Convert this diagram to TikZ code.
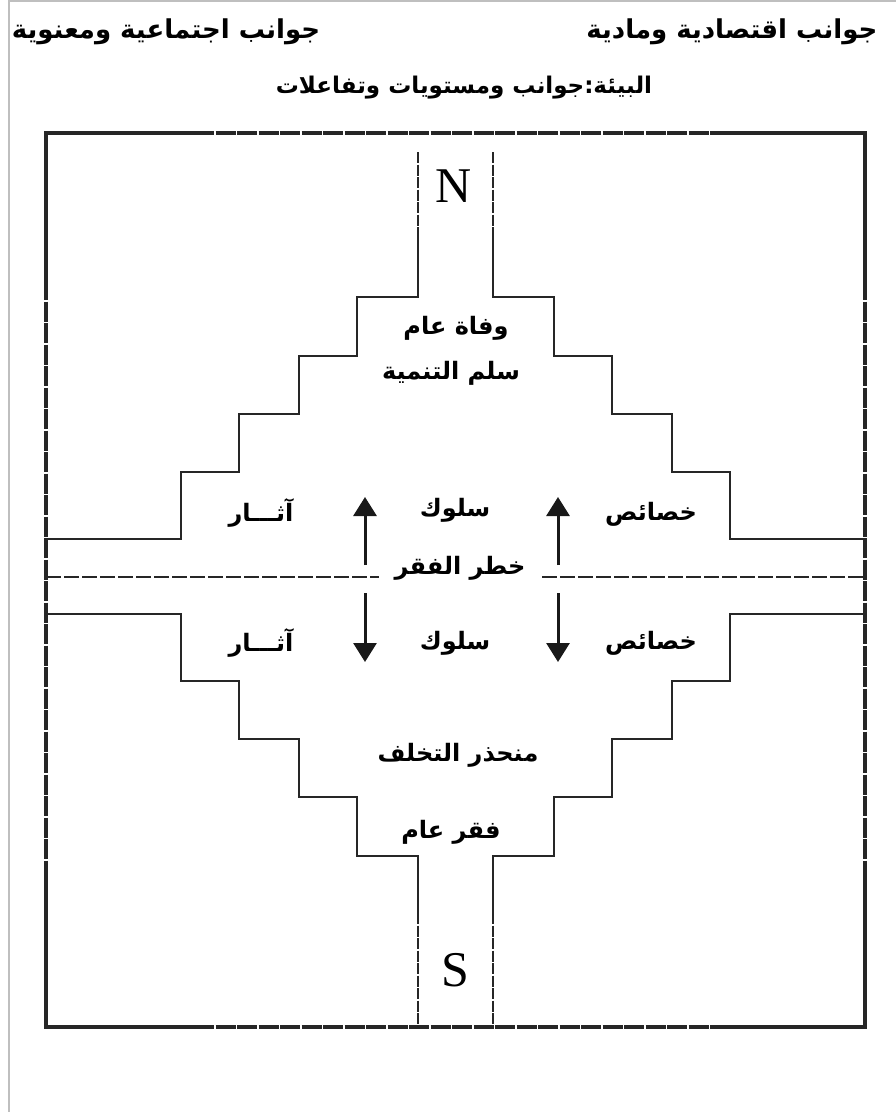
\documentclass[tikz,border=0pt]{standalone}
\usepackage{fontspec}
\setmainfont{Liberation Serif}
\newfontfamily\arabicfont[Script=Arabic]{DejaVu Sans}
\TeXXeTstate=1
\usetikzlibrary{arrows.meta}

\begin{document}
\begin{tikzpicture}[x=1pt,y=-1pt,
  outerline/.style={line width=3.3pt, draw=black!85},
  outerdash/.style={outerline, dash pattern=on 20pt off 1.5pt},
  wall/.style={line width=2.7pt, draw=black!85, line join=miter},
  walldash/.style={wall, dash pattern=on 11pt off 1.5pt},
  midline/.style={line width=2.7pt, draw=black!85, dash pattern=on 15pt off 3pt},
  artext/.style={font=\arabicfont\bfseries\fontsize{24}{28}\selectfont, inner sep=0pt},
  toptext/.style={font=\arabicfont\bfseries\fontsize{26}{30}\selectfont, inner sep=0pt},
  titletext/.style={font=\arabicfont\bfseries\fontsize{23}{27}\selectfont, inner sep=0pt},
  pole/.style={font=\fontsize{50}{54}\selectfont, inner sep=0pt},
  flow/.style={line width=3pt, draw=black!90, -{Triangle[width=23pt,length=19pt]}}]

\useasboundingbox (0,0) rectangle (896,1112);
\fill[white] (0,0) rectangle (896,1112);
% page frame
\draw[black!25, line width=2pt] (9,1112) -- (9,1) -- (896,1);

% outer box: solid corners, broken middle stretches
\draw[outerline] (194,133) -- (46,133) -- (46,280);
\draw[outerline] (717,133) -- (865,133) -- (865,280);
\draw[outerline] (46,880) -- (46,1027) -- (194,1027);
\draw[outerline] (865,880) -- (865,1027) -- (717,1027);
\draw[outerdash] (194,133) -- (717,133);
\draw[outerdash] (194,1027) -- (717,1027);
\draw[outerdash] (46,280) -- (46,880);
\draw[outerdash] (865,280) -- (865,880);

% upper staircase
\draw[walldash] (418,152) -- (418,238);
\draw[wall] (418,238) -- (418,297) -- (357,297) -- (357,356) -- (299,356) -- (299,414)
  -- (239,414) -- (239,472) -- (181,472) -- (181,539) -- (46,539);
\draw[walldash] (493,152) -- (493,238);
\draw[wall] (493,238) -- (493,297) -- (554,297) -- (554,356) -- (612,356) -- (612,414)
  -- (672,414) -- (672,472) -- (730,472) -- (730,539) -- (865,539);

% lower staircase
\draw[wall] (46,614) -- (181,614) -- (181,681) -- (239,681) -- (239,739) -- (299,739)
  -- (299,797) -- (357,797) -- (357,856) -- (418,856) -- (418,913);
\draw[walldash] (418,913) -- (418,1027);
\draw[wall] (865,614) -- (730,614) -- (730,681) -- (672,681) -- (672,739) -- (612,739)
  -- (612,797) -- (554,797) -- (554,856) -- (493,856) -- (493,913);
\draw[walldash] (493,913) -- (493,1027);

% headings
\node[toptext] (social) at (166,32) {\beginR جوانب اجتماعية ومعنوية\endR};
\node[toptext] (econ) at (732,32) {\beginR جوانب اقتصادية ومادية\endR};
\node[titletext] (env) at (464,88) {\beginR البيئة:جوانب ومستويات وتفاعلات\endR};

% poles
\node[pole] (north) at (454,186) {N};
\node[pole] (south) at (455,970) {S};

% labels inside the staircase
\node[artext] (death) at (456,328) {\beginR وفاة عام\endR};
\node[artext] (ladder) at (451,373) {\beginR سلم التنمية\endR};
\node[artext] (effU) at (261,513) {\beginR آثـــار\endR};
\node[artext] (behU) at (455,510) {\beginR سلوك\endR};
\node[artext] (featU) at (651,514) {\beginR خصائص\endR};
\node[artext] (risk) at (460,568) {\beginR خطر الفقر\endR};
\node[artext] (effD) at (261,643) {\beginR آثـــار\endR};
\node[artext] (behD) at (455,643) {\beginR سلوك\endR};
\node[artext] (featD) at (651,643) {\beginR خصائص\endR};
\node[artext] (slope) at (458,755) {\beginR منحذر التخلف\endR};
\node[artext] (poor) at (451,832) {\beginR فقر عام\endR};

% dividing line with a gap for its caption
\coordinate (midL) at (46,577);
\coordinate (midR) at (865,577);
\coordinate (gapL) at (379,577);
\coordinate (gapR) at (542,577);
\draw[midline] (midL) -- (gapL);
\draw[midline] (gapR) -- (midR);

% arrows
\coordinate (a1s) at (365,565); \coordinate (a1e) at (365,497);
\coordinate (a2s) at (558,565); \coordinate (a2e) at (558,497);
\coordinate (a3s) at (365,593); \coordinate (a3e) at (365,662);
\coordinate (a4s) at (558,593); \coordinate (a4e) at (558,662);
\draw[flow] (a1s) -- (a1e);
\draw[flow] (a2s) -- (a2e);
\draw[flow] (a3s) -- (a3e);
\draw[flow] (a4s) -- (a4e);
\end{tikzpicture}
\end{document}
